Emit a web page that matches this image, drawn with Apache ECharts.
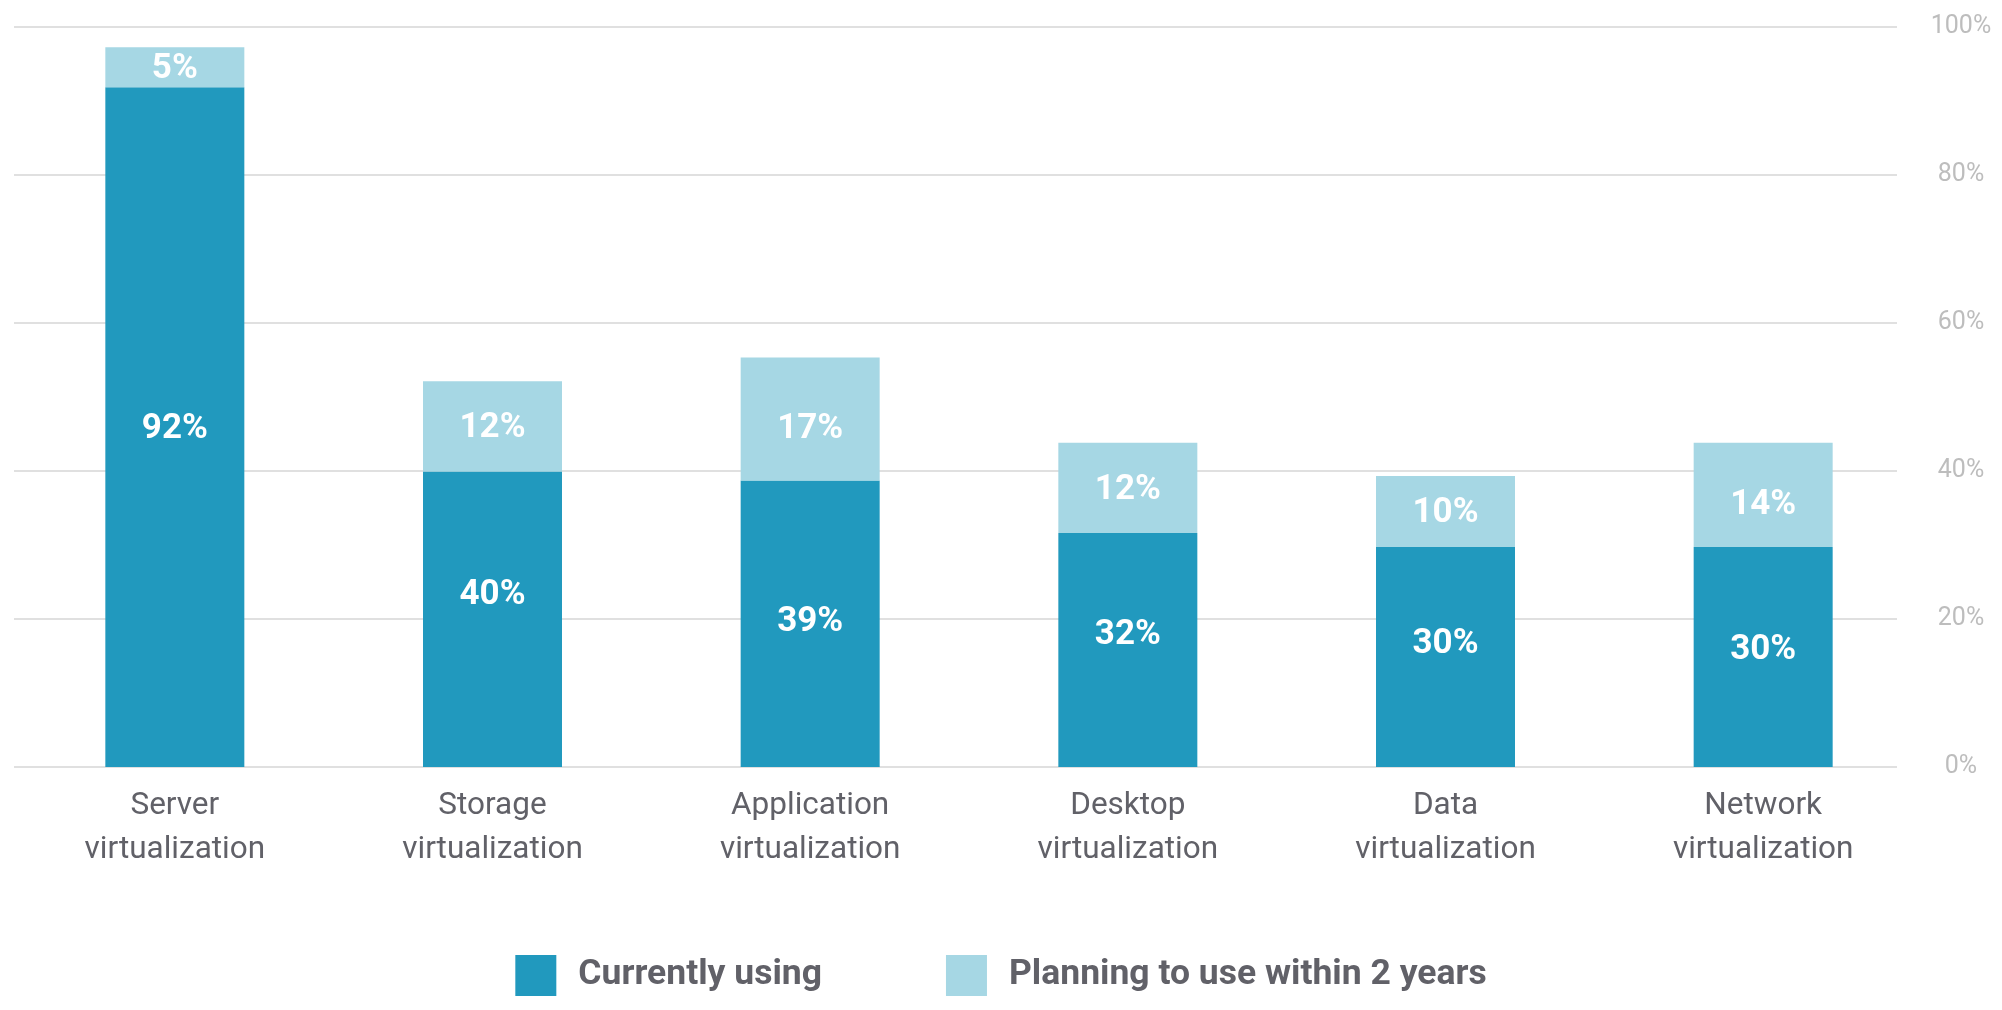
<!DOCTYPE html>
<html>
<head>
<meta charset="utf-8">
<script src="https://cdn.jsdelivr.net/npm/echarts@6/dist/echarts.min.js"></script>
<style>
html,body{margin:0;padding:0;background:#fff;}
#chart{width:2002px;height:1010px;}
</style>
</head>
<body>
<div id="chart"></div>
<script>
const categories = ['Server\nvirtualization', 'Storage\nvirtualization', 'Application\nvirtualization', 'Desktop\nvirtualization', 'Data\nvirtualization', 'Network\nvirtualization'];
const currentlyUsing = [91.8, 39.9, 38.7, 31.6, 29.7, 29.7];
const planningToUse = [5.4, 12.2, 16.6, 12.2, 9.6, 14.1];
const seriesNames = ['Currently using', 'Planning to use within 2 years'];
const yTicks = { min: 0, max: 100, interval: 20 };

// label nudges (style only, in px) to mirror the reference placement
const currentLabelShift = [2, -24, -1, -15, -13, -7];
const planningLabelShift = [2, 2, 10, 2, 2, 10];

const chart = echarts.init(document.getElementById('chart'));
const labelStyle = {
  show: true,
  position: 'inside',
  color: '#ffffff',
  fontFamily: 'Roboto',
  fontWeight: 'bold',
  fontSize: 35,
  formatter: p => Math.round(p.value) + '%'
};
function withShift(values, shifts) {
  return values.map((v, i) => ({ value: v, label: { offset: [0, shifts[i]] } }));
}
chart.setOption({
  animation: false,
  backgroundColor: '#ffffff',
  grid: [
    { left: 16, right: 80, top: 26.5, bottom: 243, containLabel: false },
    { left: 14, right: 105, top: 26.5, bottom: 243, containLabel: false }
  ],
  legend: {
    left: 'center',
    top: 950,
    itemWidth: 41,
    itemHeight: 41,
    itemGap: 124,
    icon: 'rect',
    textStyle: { color: '#616168', fontFamily: 'Roboto', fontWeight: 'bold', fontSize: 35.5, padding: [0, 0, 0, 17] },
    data: seriesNames
  },
  xAxis: [
    {
      type: 'category',
      gridIndex: 0,
      data: categories,
      axisTick: { show: false },
      axisLine: { show: false },
      axisLabel: { color: '#616168', fontFamily: 'Roboto', fontSize: 31.5, lineHeight: 44, margin: 17, interval: 0 }
    },
    { type: 'value', gridIndex: 1, min: 0, max: 1, show: false }
  ],
  yAxis: [
    { type: 'value', gridIndex: 0, min: yTicks.min, max: yTicks.max, interval: yTicks.interval, show: false },
    {
      type: 'value',
      gridIndex: 1,
      position: 'right',
      min: yTicks.min,
      max: yTicks.max,
      interval: yTicks.interval,
      axisLine: { show: false },
      axisTick: { show: false },
      splitLine: { show: true, showMinLine: true, showMaxLine: true, lineStyle: { color: '#e0e0e0', width: 2 } },
      axisLabel: { color: '#bdbdbd', fontFamily: 'Roboto', fontSize: 25, align: 'center', margin: 64, formatter: '{value}%' }
    }
  ],
  series: [
    { name: seriesNames[0], type: 'bar', stack: 'total', xAxisIndex: 0, yAxisIndex: 0, barWidth: 139, data: withShift(currentlyUsing, currentLabelShift), itemStyle: { color: '#2199be' }, label: labelStyle },
    { name: seriesNames[1], type: 'bar', stack: 'total', xAxisIndex: 0, yAxisIndex: 0, barWidth: 139, data: withShift(planningToUse, planningLabelShift), itemStyle: { color: '#a6d7e4' }, label: labelStyle }
  ]
});
</script>
</body>
</html>
